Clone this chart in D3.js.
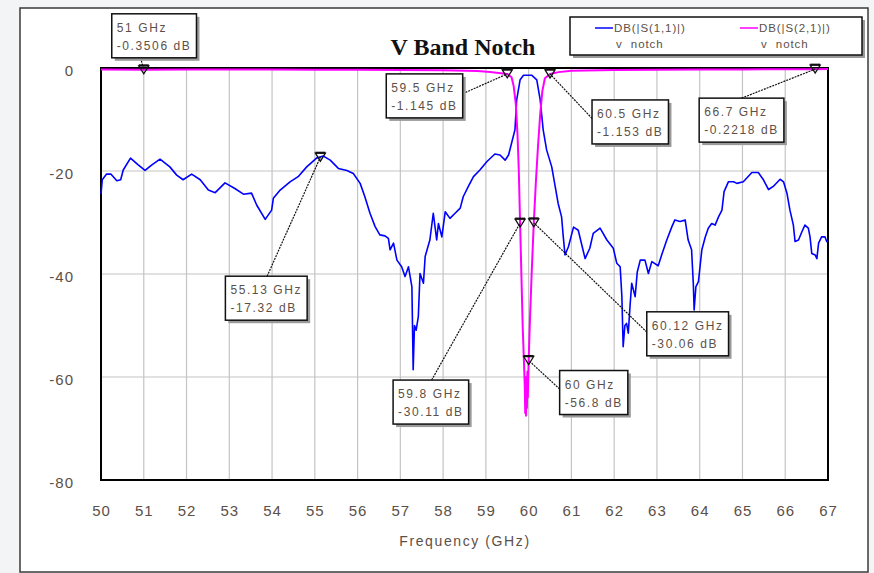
<!DOCTYPE html>
<html>
<head>
<meta charset="utf-8">
<script src="https://cdn.jsdelivr.net/npm/d3@7"></script>
<style>
  body { margin: 0; background: #f3f4f6; }
  svg { display: block; font-family: "Liberation Sans", Arial, sans-serif; }
</style>
</head>
<body>
<svg id="chart" width="874" height="573"></svg>
<script>
// S11 trace (blue)
const s11Freq = [50.00, 50.03, 50.13, 50.23, 50.37, 50.46, 50.52, 50.69, 50.87, 51.03, 51.19, 51.38, 51.61, 51.77, 51.92,
  52.12, 52.32, 52.51, 52.67, 52.90, 53.13, 53.33, 53.52, 53.64, 53.84, 53.99, 54.03, 54.19, 54.42, 54.61, 54.81,
  55.04, 55.20, 55.36, 55.55, 55.75, 55.90, 56.06, 56.17, 56.29, 56.41, 56.52, 56.64, 56.72, 56.76, 56.84, 56.92,
  57.03, 57.11, 57.19, 57.27, 57.30, 57.33, 57.37, 57.42, 57.46, 57.54, 57.58, 57.69, 57.77, 57.85, 57.89, 57.97,
  58.05, 58.16, 58.28, 58.40, 58.47, 58.59, 58.71, 58.86, 59.02, 59.21, 59.33, 59.45, 59.53, 59.60, 59.68, 59.72,
  59.80, 59.88, 60.07, 60.19, 60.27, 60.34, 60.42, 60.54, 60.62, 60.69, 60.77, 60.81, 60.85, 60.93, 61.05, 61.16,
  61.32, 61.43, 61.51, 61.67, 61.83, 61.98, 62.06, 62.14, 62.18, 62.21, 62.25, 62.29, 62.33, 62.37, 62.41, 62.49,
  62.54, 62.61, 62.72, 62.80, 62.88, 63.03, 63.11, 63.23, 63.35, 63.42, 63.54, 63.66, 63.73, 63.81, 63.85, 63.87,
  63.91, 63.97, 64.05, 64.13, 64.20, 64.28, 64.36, 64.44, 64.52, 64.57, 64.67, 64.79, 64.87, 65.02, 65.22, 65.37,
  65.49, 65.61, 65.72, 65.88, 65.96, 66.04, 66.11, 66.19, 66.23, 66.31, 66.39, 66.46, 66.54, 66.58, 66.62, 66.70,
  66.74, 66.78, 66.85, 66.93, 66.97, 67.00];
const s11dB = [-24.5, -21.7, -20.6, -20.6, -21.9, -21.7, -19.8, -17.5, -18.8, -19.9, -18.8, -17.7, -19.2, -20.8, -21.7,
  -20.6, -21.7, -23.7, -24.2, -22.3, -23.4, -24.5, -24.3, -26.6, -29.4, -27.6, -25.3, -23.7, -22.1, -21.1, -19.2,
  -17.5, -17.1, -17.9, -19.5, -19.9, -20.5, -22.4, -25.0, -28.2, -30.8, -32.4, -32.6, -33.1, -35.3, -34.0, -37.3,
  -38.6, -40.5, -38.6, -42.5, -58.6, -50.0, -50.9, -48.3, -39.9, -41.8, -36.6, -33.4, -28.2, -33.4, -30.2, -32.8,
  -27.9, -29.2, -28.2, -27.2, -25.0, -23.0, -21.1, -19.8, -18.2, -16.7, -16.9, -17.9, -16.9, -14.6, -12.0, -6.2,
  -2.3, -1.4, -1.4, -2.3, -6.2, -12.0, -15.9, -19.2, -23.0, -26.3, -28.9, -32.8, -36.3, -34.7, -30.9, -31.5,
  -37.0, -35.0, -32.1, -31.1, -33.4, -35.0, -37.9, -38.6, -44.4, -54.1, -50.0, -49.6, -51.5, -46.3, -41.8, -44.4,
  -39.6, -37.3, -37.3, -39.9, -37.6, -38.4, -36.3, -33.4, -30.8, -29.5, -29.8, -29.5, -33.4, -35.3, -41.8, -47.0,
  -42.5, -41.5, -35.3, -32.8, -31.1, -30.2, -30.5, -28.9, -27.6, -24.0, -22.1, -22.1, -22.4, -22.1, -20.3, -20.3,
  -21.7, -23.6, -23.0, -21.6, -22.1, -24.3, -27.6, -30.5, -33.7, -33.4, -31.8, -30.5, -31.1, -32.8, -36.0, -36.3,
  -37.0, -34.0, -32.8, -32.8, -33.7, -33.5];

// S21 trace (magenta)
const s21Freq = [50, 51, 52, 53, 54, 55, 56, 57, 58, 58.8, 59.1, 59.3, 59.5, 59.6, 59.65, 59.7, 59.74, 59.77, 59.8,
  59.83, 59.86, 59.89, 59.91, 59.92, 59.93, 59.94, 59.95, 59.96, 59.97, 59.98, 60.0, 60.03, 60.07, 60.12, 60.17,
  60.22, 60.27, 60.32, 60.38, 60.5, 60.7, 61, 62, 63, 64, 65, 66, 66.7, 67];
const s21dB = [-0.30, -0.35, -0.30, -0.28, -0.30, -0.32, -0.35, -0.40, -0.45, -0.6, -0.8, -0.95, -1.145, -1.8, -3.5,
  -7, -13, -20, -30.11, -40, -50, -57, -62, -67, -60, -67.5, -61, -66, -59, -64, -56.8, -49, -40, -30.06, -22,
  -15, -9, -4.5, -2, -1.153, -0.8, -0.55, -0.4, -0.35, -0.3, -0.27, -0.24, -0.2218, -0.21];

// markers
const markerFreq = [51, 59.5, 60.5, 66.7, 55.13, 59.8, 60.12, 60];
const markerdB = [-0.3506, -1.145, -1.153, -0.2218, -17.32, -30.11, -30.06, -56.8];
const markerLine1 = ["51 GHz", "59.5 GHz", "60.5 GHz", "66.7 GHz", "55.13 GHz", "59.8 GHz", "60.12 GHz", "60 GHz"];
const markerLine2 = ["-0.3506 dB", "-1.145 dB", "-1.153 dB", "-0.2218 dB", "-17.32 dB", "-30.11 dB", "-30.06 dB", "-56.8 dB"];
// label box offset from marker, and where the leader leaves the box (fraction of box)
const labelPos = [
  {dx: -32, dy: -56, ax: 0.34, ay: 1},
  {dx: -121, dy: 0, ax: 1, ay: 0.45},
  {dx: 42, dy: 26, ax: 0, ay: 0.42},
  {dx: -116, dy: 29, ax: 0.5, ay: 0},
  {dx: -95, dy: 119, ax: 0.51, ay: 0},
  {dx: -127, dy: 157, ax: 0.51, ay: 0},
  {dx: 113, dy: 89, ax: 0, ay: 0.46},
  {dx: 31, dy: 10, ax: 0, ay: 0.42}
];

const xTicks = d3.range(50, 68, 1);
const yTicks = [0, -20, -40, -60, -80];
const legendNames = ["DB(|S(1,1)|)", "DB(|S(2,1)|)"];
const legendColors = ["#0000ff", "#ff00ff"];

const svg = d3.select("#chart");
const textColor = "#5c5048";
const sans = "Liberation Sans, Arial, sans-serif";

// outer frame
svg.append("rect").attr("x", 20).attr("y", 8).attr("width", 848).attr("height", 564)
  .attr("fill", "#fff").attr("stroke", "#3a3a3a").attr("stroke-width", 1.5);

const x = d3.scaleLinear().domain([50, 67]).range([101, 828]);
const y = d3.scaleLinear().domain([0, -80]).range([68, 480]);

// grid
svg.append("g").selectAll("line").data(xTicks.slice(1, -1)).enter().append("line")
  .attr("x1", d => x(d)).attr("x2", d => x(d)).attr("y1", y(0)).attr("y2", y(-80))
  .attr("stroke", "#c4c4c4").attr("stroke-width", 1.2);
svg.append("g").selectAll("line").data(yTicks.slice(1, -1)).enter().append("line")
  .attr("x1", x(50)).attr("x2", x(67)).attr("y1", d => y(d)).attr("y2", d => y(d))
  .attr("stroke", "#c4c4c4").attr("stroke-width", 1.2);

// plot border
svg.append("rect").attr("x", x(50)).attr("y", y(0)).attr("width", x(67) - x(50)).attr("height", y(-80) - y(0))
  .attr("fill", "none").attr("stroke", "#000").attr("stroke-width", 2);

// axes
const xAxis = d3.axisBottom(x).tickValues(xTicks).tickFormat(d => String(d)).tickSize(0).tickPadding(0);
const gx = svg.append("g").attr("transform", `translate(0,${y(-80) + 36})`).call(xAxis);
gx.select(".domain").remove();
gx.selectAll("text").attr("font-size", 15).attr("letter-spacing", 1).attr("fill", textColor).attr("dy", 0)
  .attr("font-family", sans);

const yAxis = d3.axisLeft(y).tickValues(yTicks).tickFormat(d => String(d)).tickSize(0).tickPadding(0);
const gy = svg.append("g").attr("transform", "translate(74,3)").call(yAxis);
gy.select(".domain").remove();
gy.selectAll("text").attr("font-size", 15).attr("letter-spacing", 1).attr("fill", textColor)
  .attr("font-family", sans);

svg.append("text").attr("x", 465).attr("y", 546).attr("text-anchor", "middle")
  .attr("font-size", 14).attr("letter-spacing", 1.6).attr("fill", textColor).text("Frequency (GHz)");

svg.append("text").attr("x", 463).attr("y", 55).attr("text-anchor", "middle")
  .style("font-family", "'Liberation Serif', 'Times New Roman', serif").attr("font-weight", "bold")
  .attr("font-size", 24).attr("fill", "#111").text("V Band Notch");

// traces
const line = d3.line().x(d => x(d[0])).y(d => y(d[1]));
const s11 = s11Freq.map((f, i) => [f, s11dB[i]]);
const s21 = s21Freq.map((f, i) => [f, s21dB[i]]);
svg.append("path").datum(s11).attr("d", line).attr("fill", "none")
  .attr("stroke", "#0000ff").attr("stroke-width", 1.6).attr("stroke-linejoin", "round");
svg.append("path").datum(s21).attr("d", line).attr("fill", "none")
  .attr("stroke", "#ff00ff").attr("stroke-width", 2).attr("stroke-linejoin", "round");

// legend
const lg = svg.append("g");
lg.append("rect").attr("x", 573).attr("y", 20).attr("width", 292).attr("height", 38).attr("fill", "#999");
lg.append("rect").attr("x", 570).attr("y", 17).attr("width", 292).attr("height", 38)
  .attr("fill", "#fff").attr("stroke", "#111").attr("stroke-width", 1.5);
legendNames.forEach((name, i) => {
  const lx = 595 + i * 145;
  lg.append("line").attr("x1", lx).attr("x2", lx + 18).attr("y1", 28).attr("y2", 28)
    .attr("stroke", legendColors[i]).attr("stroke-width", 1.5);
  lg.append("text").attr("x", lx + 19).attr("y", 32).attr("font-size", 11.5).attr("letter-spacing", 0.9)
    .attr("fill", textColor).text(name);
  lg.append("text").attr("x", lx + 21).attr("y", 48).attr("font-size", 11.5).attr("letter-spacing", 0.9)
    .attr("fill", textColor).attr("xml:space", "preserve").text("v  notch");
});

// markers
const mg = svg.append("g");
markerFreq.forEach((f, i) => {
  const px = x(f), py = y(markerdB[i]);
  const lp = labelPos[i];
  const bx = px + lp.dx, by = py + lp.dy;
  const lab = mg.append("g");
  const t1 = lab.append("text").attr("x", bx + 5).attr("y", by + 18).attr("font-size", 12)
    .attr("letter-spacing", 1.6).attr("fill", textColor).text(markerLine1[i]);
  const t2 = lab.append("text").attr("x", bx + 5).attr("y", by + 36).attr("font-size", 12)
    .attr("letter-spacing", 1.6).attr("fill", textColor).text(markerLine2[i]);
  const w = Math.max(t1.node().getComputedTextLength(), t2.node().getComputedTextLength()) + 10;
  const h = 44;
  lab.insert("rect", "text").attr("x", bx + 3).attr("y", by + 3).attr("width", w).attr("height", h).attr("fill", "#9a9a9a");
  lab.insert("rect", "text").attr("x", bx).attr("y", by).attr("width", w).attr("height", h)
    .attr("fill", "#fff").attr("stroke", "#111").attr("stroke-width", 1.5);
  mg.insert("line", "g").attr("x1", bx + lp.ax * w).attr("y1", by + lp.ay * h).attr("x2", px).attr("y2", py)
    .attr("stroke", "#111").attr("stroke-width", 1.2).attr("stroke-dasharray", "2,1");
  mg.append("path").attr("d", `M${px - 5},${py - 4}L${px + 5},${py - 4}L${px},${py + 4}Z`)
    .attr("fill", "none").attr("stroke", "#111").attr("stroke-width", 1.3);
  mg.append("line").attr("x1", px - 5).attr("x2", px + 5).attr("y1", py - 4.5).attr("y2", py - 4.5)
    .attr("stroke", "#111").attr("stroke-width", 2);
});
</script>
</body>
</html>
